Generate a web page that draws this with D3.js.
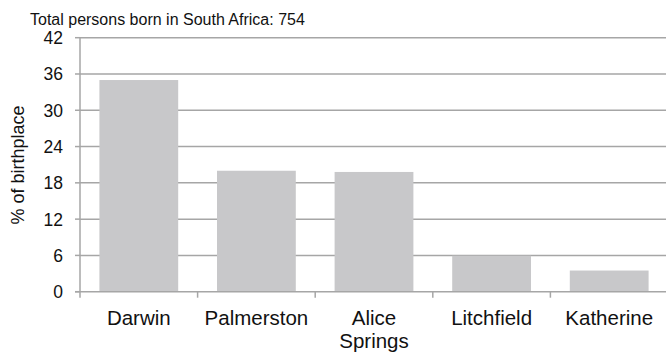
<!DOCTYPE html>
<html><head><meta charset="utf-8">
<script src="https://cdn.jsdelivr.net/npm/d3@7"></script>
<style>body{margin:0;background:#fff}svg{display:block}text{font-family:"Liberation Sans",Arial,sans-serif;fill:#111}</style>
</head><body>
<script>
const categories = ["Darwin", "Palmerston", "Alice Springs", "Litchfield", "Katherine"];
const values = [35.0, 20.0, 19.8, 5.95, 3.5];
const yTicks = [0, 6, 12, 18, 24, 30, 36, 42];
const title = "Total persons born in South Africa: 754";
const yLabel = "% of birthplace";

const W = 666, H = 353;
const svg = d3.select("body").append("svg").attr("width", W).attr("height", H);
const x = d3.scaleBand().domain(categories).range([80, 668]).paddingInner(0.33).paddingOuter(0.165);
const y = d3.scaleLinear().domain([0, 42]).range([291.7, 37.7]);
const grid = "#a6a6a6";

svg.append("g").selectAll("line").data(yTicks.filter(d => d > 0)).join("line")
  .attr("x1", 80).attr("x2", 666).attr("y1", d => y(d)).attr("y2", d => y(d))
  .attr("stroke", grid).attr("stroke-width", 1.5);

svg.append("g").selectAll("rect").data(values).join("rect")
  .attr("x", (d, i) => x(categories[i])).attr("width", x.bandwidth())
  .attr("y", d => y(d)).attr("height", d => y(0) - y(d)).attr("fill", "#c8c8ca");

// axes
svg.append("line").attr("x1", 80).attr("x2", 80).attr("y1", y(42)).attr("y2", y(0) + 6).attr("stroke", grid).attr("stroke-width", 1.5);
svg.append("line").attr("x1", 75).attr("x2", 666).attr("y1", y(0)).attr("y2", y(0)).attr("stroke", grid).attr("stroke-width", 1.5);
svg.append("g").selectAll("line").data(yTicks).join("line")
  .attr("x1", 75).attr("x2", 80).attr("y1", d => y(d)).attr("y2", d => y(d)).attr("stroke", grid).attr("stroke-width", 1.5);
const bounds = categories.map(c => x(c) - x.step() * x.paddingInner() / 2).slice(1);
svg.append("g").selectAll("line").data(bounds).join("line")
  .attr("x1", d => d).attr("x2", d => d).attr("y1", y(0)).attr("y2", y(0) + 6).attr("stroke", grid).attr("stroke-width", 1.5);

svg.append("g").selectAll("text").data(yTicks).join("text")
  .attr("x", 63).attr("y", d => y(d) + 6.5).attr("text-anchor", "end").attr("font-size", 17.5).text(d => d);

svg.append("g").selectAll("text").data(categories).join("text")
  .attr("text-anchor", "middle").attr("font-size", 20.5)
  .attr("transform", c => `translate(${x(c) + x.bandwidth() / 2},325)`)
  .each(function(c) {
    const parts = c === "Alice Springs" ? ["Alice", "Springs"] : [c];
    d3.select(this).selectAll("tspan").data(parts).join("tspan")
      .attr("x", 0).attr("dy", (p, i) => i === 0 ? 0 : 23).text(p => p);
  });

svg.append("text").attr("x", 30).attr("y", 24.5).attr("font-size", 16).text(title);
svg.append("text").attr("transform", "translate(24,165) rotate(-90)").attr("text-anchor", "middle").attr("font-size", 18).text(yLabel);
</script>
</body></html>
